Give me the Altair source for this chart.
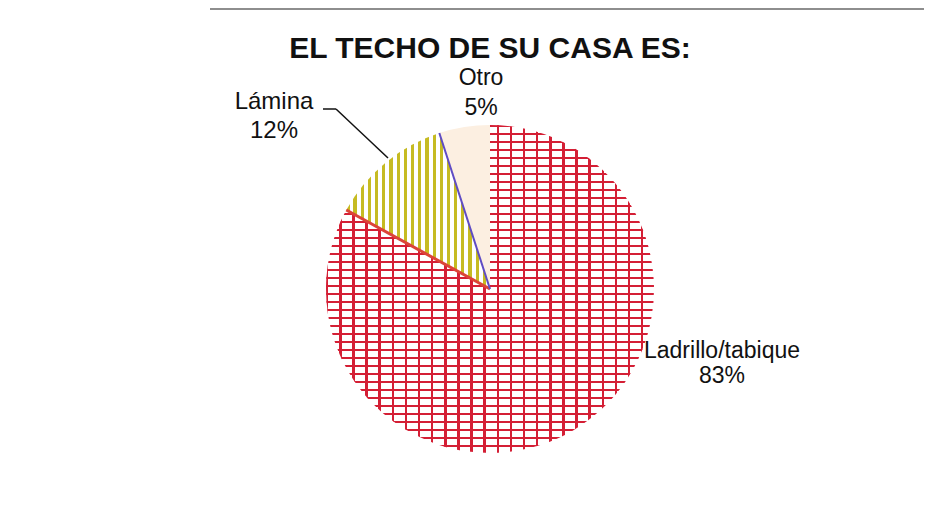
import altair as alt
import pandas as pd

# ---- data ----
categorias = ["Ladrillo/tabique", "Lámina", "Otro"]
porcentajes = [83, 12, 5]
orden = [0, 1, 2]
titulo = "EL TECHO DE SU CASA ES:"

df = pd.DataFrame({"categoria": categorias, "valor": porcentajes, "orden": orden})
df["etiqueta"] = [f"{c}\n{v}%" for c, v in zip(categorias, porcentajes)]

# ---- styling helpers ----
CX, CY, R = 482, 281, 164
FONT = "Liberation Sans"


def stripes(color_a, color_b, n, frac_a, vertical):
    stops = []
    for i in range(n):
        s = i / n
        m = (i + frac_a) / n
        e = (i + 1) / n
        stops += [
            {"offset": s, "color": color_a},
            {"offset": m, "color": color_a},
            {"offset": m, "color": color_b},
            {"offset": e, "color": color_b},
        ]
    g = {"gradient": "linear", "stops": stops, "x1": 0, "y1": 0}
    if vertical:
        g.update({"x2": 1, "y2": 0})
    else:
        g.update({"x2": 0, "y2": 1})
    return g


RED = "#d41f35"
brick_rows = stripes(RED, "#ffffff", 41, 0.3, vertical=False)
brick_cols = stripes(RED, "rgba(255,255,255,0)", 25, 0.19, vertical=True)
lamina_fill = stripes("#c6bb22", "#ffffff", 20, 0.45, vertical=True)
otro_fill = "#fcefe1"

base = alt.Chart(df).transform_window(
    fin="sum(valor)", sort=[alt.SortField("orden")]
).transform_calculate(inicio="datum.fin - datum.valor")

theta = alt.Theta("inicio:Q", scale=alt.Scale(domain=[0, 100]))
theta2 = alt.Theta2("fin")
center = dict(x=alt.value(CX), y=alt.value(CY))

ladr = base.transform_filter(alt.datum.orden == 0)
lam = base.transform_filter(alt.datum.orden == 1)
otro = base.transform_filter(alt.datum.orden == 2)

arc_l1 = ladr.mark_arc(outerRadius=R, fill=brick_rows).encode(theta=theta, theta2=theta2, **center)
arc_l2 = ladr.mark_arc(outerRadius=R, fill=brick_cols).encode(theta=theta, theta2=theta2, **center)
arc_lam = lam.mark_arc(outerRadius=R, fill=lamina_fill).encode(theta=theta, theta2=theta2, **center)
arc_otro = otro.mark_arc(outerRadius=R, fill=otro_fill).encode(theta=theta, theta2=theta2, **center)


def boundary(src, color, width):
    return src.transform_calculate(
        ang="2*PI*datum.inicio/100",
        cx=f"{CX}",
        cy=f"{CY}",
        bx=f"{CX} + {R}*sin(datum.ang)",
        by=f"{CY} - {R}*cos(datum.ang)",
    ).mark_rule(color=color, strokeWidth=width).encode(
        x=alt.X("cx:Q", scale=None),
        y=alt.Y("cy:Q", scale=None),
        x2="bx:Q",
        y2="by:Q",
    )


line_red = boundary(lam, "#dc4438", 3)
line_purple = boundary(otro, "#5f4cc4", 2)


def label(src, x, y, lh, size=23):
    return src.mark_text(
        font=FONT, fontSize=size, color="#111111", align="center",
        baseline="alphabetic", lineBreak="\n", lineHeight=lh,
    ).encode(text="etiqueta:N", x=alt.value(x), y=alt.value(y))


lab_ladr = label(ladr, 714, 350, 25)
lab_lam = label(lam, 266, 101, 29, 24)
lab_otro = label(otro, 473, 77, 30)

title_df = pd.DataFrame({"t": [titulo]})
title = alt.Chart(title_df).mark_text(
    font=FONT, fontSize=30, fontWeight="bold", color="#111111",
    align="center", baseline="alphabetic",
).encode(text="t:N", x=alt.value(482), y=alt.value(50))

anno = pd.DataFrame({"k": [0]})
leader1 = alt.Chart(anno).mark_rule(color="#111111", strokeWidth=1.5).encode(
    x=alt.value(315), x2=alt.value(328), y=alt.value(101), y2=alt.value(101))
leader2 = alt.Chart(anno).mark_rule(color="#111111", strokeWidth=1.5).encode(
    x=alt.value(328), x2=alt.value(380), y=alt.value(101), y2=alt.value(150))
topline = alt.Chart(anno).mark_rule(color="#8e8e8e", strokeWidth=2).encode(
    x=alt.value(202), x2=alt.value(930), y=alt.value(1), y2=alt.value(1))

chart = alt.layer(
    topline, arc_l1, arc_l2, arc_lam, arc_otro, line_red, line_purple,
    leader1, leader2, lab_ladr, lab_lam, lab_otro, title,
).properties(
    width=916, height=493, padding=0, autosize="none", background="white"
).configure_view(stroke=None)

chart.save("out.html", embed_options={"renderer": "svg", "actions": False})
